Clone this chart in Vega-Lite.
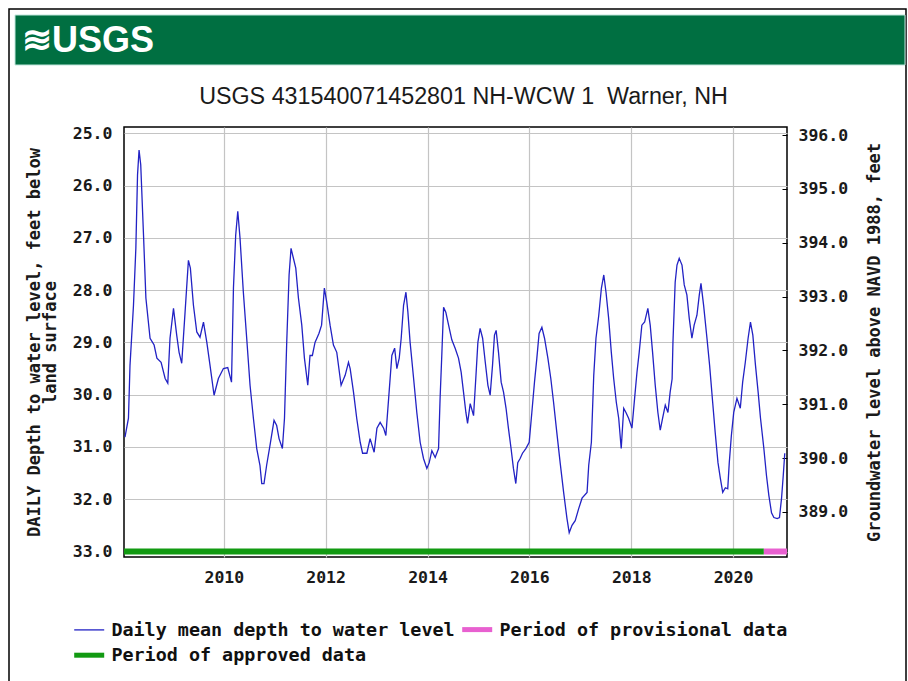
{
  "$schema": "https://vega.github.io/schema/vega-lite/v6.json",
  "width": 663,
  "height": 430,
  "autosize": {"type": "none"},
  "padding": {"left": 124, "top": 127, "right": 121, "bottom": 124},
  "background": "#ffffff",
  "title": {
    "text": "USGS 431540071452801 NH-WCW 1\u00a0 Warner, NH",
    "font": "Liberation Sans, Arial, sans-serif",
    "fontSize": 23.3,
    "fontWeight": "normal",
    "color": "#1a1a1a",
    "anchor": "middle",
    "frame": "group",
    "baseline": "bottom",
    "dx": 8,
    "offset": -124
  },
  "datasets": {
    "depth": [
      {"date": "2008-01-23", "depth": 30.81}, {"date": "2008-02-17", "depth": 30.45}, {"date": "2008-02-28", "depth": 29.44},
      {"date": "2008-03-24", "depth": 28.29}, {"date": "2008-04-10", "depth": 27.2}, {"date": "2008-04-22", "depth": 25.8},
      {"date": "2008-05-03", "depth": 25.32}, {"date": "2008-05-15", "depth": 25.6}, {"date": "2008-06-04", "depth": 26.95},
      {"date": "2008-06-21", "depth": 28.15}, {"date": "2008-07-21", "depth": 28.92}, {"date": "2008-08-19", "depth": 29.05},
      {"date": "2008-09-08", "depth": 29.3}, {"date": "2008-10-08", "depth": 29.38}, {"date": "2008-11-06", "depth": 29.69},
      {"date": "2008-11-25", "depth": 29.78}, {"date": "2008-12-11", "depth": 28.92}, {"date": "2009-01-05", "depth": 28.35},
      {"date": "2009-01-28", "depth": 28.86}, {"date": "2009-02-14", "depth": 29.19}, {"date": "2009-03-05", "depth": 29.4},
      {"date": "2009-03-29", "depth": 28.42}, {"date": "2009-04-22", "depth": 27.43}, {"date": "2009-05-06", "depth": 27.58},
      {"date": "2009-05-28", "depth": 28.29}, {"date": "2009-06-21", "depth": 28.8}, {"date": "2009-07-14", "depth": 28.9},
      {"date": "2009-08-08", "depth": 28.61}, {"date": "2009-09-01", "depth": 29.0}, {"date": "2009-09-24", "depth": 29.44},
      {"date": "2009-10-23", "depth": 30.01}, {"date": "2009-11-23", "depth": 29.69}, {"date": "2009-12-29", "depth": 29.5},
      {"date": "2010-01-29", "depth": 29.48}, {"date": "2010-02-25", "depth": 29.76}, {"date": "2010-03-11", "depth": 27.96},
      {"date": "2010-03-27", "depth": 26.95}, {"date": "2010-04-11", "depth": 26.49}, {"date": "2010-04-27", "depth": 27.0},
      {"date": "2010-05-21", "depth": 28.04}, {"date": "2010-06-14", "depth": 28.92}, {"date": "2010-07-08", "depth": 29.82},
      {"date": "2010-08-01", "depth": 30.45}, {"date": "2010-08-25", "depth": 31.03}, {"date": "2010-09-17", "depth": 31.35},
      {"date": "2010-09-30", "depth": 31.7}, {"date": "2010-10-16", "depth": 31.7}, {"date": "2010-11-04", "depth": 31.35},
      {"date": "2010-11-28", "depth": 30.97}, {"date": "2010-12-27", "depth": 30.49}, {"date": "2011-01-15", "depth": 30.59},
      {"date": "2011-02-01", "depth": 30.84}, {"date": "2011-02-25", "depth": 31.03}, {"date": "2011-03-12", "depth": 30.45},
      {"date": "2011-03-28", "depth": 29.0}, {"date": "2011-04-14", "depth": 27.71}, {"date": "2011-04-28", "depth": 27.2},
      {"date": "2011-05-15", "depth": 27.39}, {"date": "2011-06-01", "depth": 27.58}, {"date": "2011-06-20", "depth": 28.15},
      {"date": "2011-07-14", "depth": 28.67}, {"date": "2011-08-02", "depth": 29.3}, {"date": "2011-08-26", "depth": 29.82},
      {"date": "2011-09-11", "depth": 29.25}, {"date": "2011-09-28", "depth": 29.25}, {"date": "2011-10-17", "depth": 29.0},
      {"date": "2011-11-14", "depth": 28.83}, {"date": "2011-12-03", "depth": 28.67}, {"date": "2011-12-23", "depth": 27.96},
      {"date": "2012-01-09", "depth": 28.23}, {"date": "2012-02-02", "depth": 28.67}, {"date": "2012-02-26", "depth": 29.05},
      {"date": "2012-03-21", "depth": 29.19}, {"date": "2012-04-21", "depth": 29.82}, {"date": "2012-05-20", "depth": 29.63},
      {"date": "2012-06-13", "depth": 29.38}, {"date": "2012-06-25", "depth": 29.5}, {"date": "2012-07-19", "depth": 29.95},
      {"date": "2012-08-11", "depth": 30.45}, {"date": "2012-09-05", "depth": 30.91}, {"date": "2012-09-22", "depth": 31.12},
      {"date": "2012-10-23", "depth": 31.12}, {"date": "2012-11-15", "depth": 30.84}, {"date": "2012-12-14", "depth": 31.1},
      {"date": "2013-01-03", "depth": 30.64}, {"date": "2013-01-26", "depth": 30.53}, {"date": "2013-02-20", "depth": 30.64},
      {"date": "2013-03-08", "depth": 30.78}, {"date": "2013-03-28", "depth": 30.07}, {"date": "2013-04-20", "depth": 29.25},
      {"date": "2013-05-10", "depth": 29.11}, {"date": "2013-05-26", "depth": 29.5}, {"date": "2013-06-12", "depth": 29.3},
      {"date": "2013-06-26", "depth": 28.92}, {"date": "2013-07-13", "depth": 28.29}, {"date": "2013-07-30", "depth": 28.04},
      {"date": "2013-08-13", "depth": 28.42}, {"date": "2013-08-29", "depth": 29.0}, {"date": "2013-09-23", "depth": 29.69},
      {"date": "2013-10-16", "depth": 30.34}, {"date": "2013-11-09", "depth": 30.91}, {"date": "2013-12-03", "depth": 31.22},
      {"date": "2013-12-27", "depth": 31.41}, {"date": "2014-01-13", "depth": 31.3}, {"date": "2014-02-01", "depth": 31.07},
      {"date": "2014-02-25", "depth": 31.2}, {"date": "2014-03-21", "depth": 31.03}, {"date": "2014-04-01", "depth": 30.07},
      {"date": "2014-04-14", "depth": 29.19}, {"date": "2014-04-26", "depth": 28.33}, {"date": "2014-05-12", "depth": 28.42},
      {"date": "2014-06-01", "depth": 28.67}, {"date": "2014-06-24", "depth": 28.95}, {"date": "2014-07-18", "depth": 29.11},
      {"date": "2014-08-11", "depth": 29.3}, {"date": "2014-08-30", "depth": 29.57}, {"date": "2014-09-16", "depth": 29.95},
      {"date": "2014-10-03", "depth": 30.34}, {"date": "2014-10-15", "depth": 30.55}, {"date": "2014-11-03", "depth": 30.17},
      {"date": "2014-11-27", "depth": 30.4}, {"date": "2014-12-13", "depth": 29.69}, {"date": "2014-12-28", "depth": 29.0},
      {"date": "2015-01-13", "depth": 28.73}, {"date": "2015-01-31", "depth": 28.92}, {"date": "2015-02-19", "depth": 29.38},
      {"date": "2015-03-10", "depth": 29.82}, {"date": "2015-03-26", "depth": 30.01}, {"date": "2015-04-12", "depth": 29.44},
      {"date": "2015-04-26", "depth": 28.86}, {"date": "2015-05-08", "depth": 28.77}, {"date": "2015-05-25", "depth": 29.19},
      {"date": "2015-06-13", "depth": 29.76}, {"date": "2015-06-30", "depth": 29.95}, {"date": "2015-07-18", "depth": 30.26},
      {"date": "2015-08-04", "depth": 30.64}, {"date": "2015-08-23", "depth": 31.03}, {"date": "2015-09-09", "depth": 31.41},
      {"date": "2015-09-26", "depth": 31.7}, {"date": "2015-10-10", "depth": 31.3}, {"date": "2015-10-27", "depth": 31.22},
      {"date": "2015-11-13", "depth": 31.12}, {"date": "2015-12-07", "depth": 31.03}, {"date": "2015-12-31", "depth": 30.91},
      {"date": "2016-01-19", "depth": 30.34}, {"date": "2016-02-07", "depth": 29.76}, {"date": "2016-02-24", "depth": 29.3},
      {"date": "2016-03-11", "depth": 28.83}, {"date": "2016-03-31", "depth": 28.71}, {"date": "2016-04-19", "depth": 28.92},
      {"date": "2016-05-13", "depth": 29.3}, {"date": "2016-06-03", "depth": 29.69}, {"date": "2016-06-23", "depth": 30.15},
      {"date": "2016-07-16", "depth": 30.72}, {"date": "2016-08-09", "depth": 31.3}, {"date": "2016-09-03", "depth": 31.87},
      {"date": "2016-09-27", "depth": 32.37}, {"date": "2016-10-13", "depth": 32.64}, {"date": "2016-11-02", "depth": 32.5},
      {"date": "2016-11-25", "depth": 32.41}, {"date": "2016-12-20", "depth": 32.18}, {"date": "2017-01-13", "depth": 31.98},
      {"date": "2017-02-18", "depth": 31.87}, {"date": "2017-03-02", "depth": 31.35}, {"date": "2017-03-21", "depth": 30.91},
      {"date": "2017-04-07", "depth": 29.63}, {"date": "2017-04-23", "depth": 28.92}, {"date": "2017-05-13", "depth": 28.48},
      {"date": "2017-06-01", "depth": 27.96}, {"date": "2017-06-18", "depth": 27.71}, {"date": "2017-07-04", "depth": 28.04},
      {"date": "2017-07-23", "depth": 28.54}, {"date": "2017-08-11", "depth": 29.19}, {"date": "2017-08-28", "depth": 29.69},
      {"date": "2017-09-16", "depth": 30.15}, {"date": "2017-10-03", "depth": 30.45}, {"date": "2017-10-21", "depth": 31.03},
      {"date": "2017-11-08", "depth": 30.26}, {"date": "2017-11-24", "depth": 30.34}, {"date": "2017-12-13", "depth": 30.45},
      {"date": "2018-01-06", "depth": 30.64}, {"date": "2018-01-25", "depth": 30.07}, {"date": "2018-02-11", "depth": 29.57},
      {"date": "2018-02-27", "depth": 29.19}, {"date": "2018-03-18", "depth": 28.67}, {"date": "2018-04-07", "depth": 28.61},
      {"date": "2018-04-30", "depth": 28.35}, {"date": "2018-05-17", "depth": 28.67}, {"date": "2018-06-03", "depth": 29.19},
      {"date": "2018-06-22", "depth": 29.82}, {"date": "2018-07-11", "depth": 30.34}, {"date": "2018-07-28", "depth": 30.68},
      {"date": "2018-08-14", "depth": 30.45}, {"date": "2018-09-02", "depth": 30.2}, {"date": "2018-09-21", "depth": 30.34},
      {"date": "2018-10-07", "depth": 29.95}, {"date": "2018-10-21", "depth": 29.7}, {"date": "2018-10-27", "depth": 29.0},
      {"date": "2018-11-12", "depth": 27.85}, {"date": "2018-11-25", "depth": 27.52}, {"date": "2018-12-11", "depth": 27.39},
      {"date": "2018-12-31", "depth": 27.52}, {"date": "2019-01-16", "depth": 27.9}, {"date": "2019-02-04", "depth": 28.09},
      {"date": "2019-02-21", "depth": 28.54}, {"date": "2019-03-12", "depth": 28.92}, {"date": "2019-03-28", "depth": 28.67},
      {"date": "2019-04-17", "depth": 28.48}, {"date": "2019-05-04", "depth": 28.09}, {"date": "2019-05-16", "depth": 27.87},
      {"date": "2019-06-04", "depth": 28.29}, {"date": "2019-06-28", "depth": 28.92}, {"date": "2019-07-17", "depth": 29.44},
      {"date": "2019-08-08", "depth": 30.15}, {"date": "2019-08-26", "depth": 30.72}, {"date": "2019-09-15", "depth": 31.3},
      {"date": "2019-10-02", "depth": 31.6}, {"date": "2019-10-19", "depth": 31.87}, {"date": "2019-11-07", "depth": 31.78},
      {"date": "2019-11-24", "depth": 31.8}, {"date": "2019-12-05", "depth": 31.3}, {"date": "2019-12-20", "depth": 30.78},
      {"date": "2020-01-06", "depth": 30.34}, {"date": "2020-01-29", "depth": 30.07}, {"date": "2020-02-22", "depth": 30.26},
      {"date": "2020-03-10", "depth": 29.76}, {"date": "2020-03-29", "depth": 29.38}, {"date": "2020-04-18", "depth": 28.92},
      {"date": "2020-05-05", "depth": 28.61}, {"date": "2020-05-22", "depth": 28.86}, {"date": "2020-06-10", "depth": 29.44},
      {"date": "2020-06-29", "depth": 29.95}, {"date": "2020-07-16", "depth": 30.45}, {"date": "2020-08-09", "depth": 31.03},
      {"date": "2020-08-28", "depth": 31.55}, {"date": "2020-09-14", "depth": 31.93}, {"date": "2020-10-03", "depth": 32.26},
      {"date": "2020-10-20", "depth": 32.35}, {"date": "2020-11-13", "depth": 32.37}, {"date": "2020-11-29", "depth": 32.35},
      {"date": "2020-12-14", "depth": 31.98}, {"date": "2020-12-26", "depth": 31.55}, {"date": "2021-01-06", "depth": 31.12}
    ],
    "periods": [
      {"start": "2008-01-16", "end": "2020-08-09", "period": "Period of approved data"},
      {"start": "2020-08-09", "end": "2021-01-22", "period": "Period of provisional data"}
    ]
  },
  "layer": [
    {
      "data": {"values": [{}]},
      "mark": {"type": "rect", "filled": false, "stroke": "#000000", "strokeWidth": 1.5},
      "encoding": {"x": {"value": -115}, "x2": {"value": 782}, "y": {"value": -118}, "y2": {"value": 600}}
    },
    {
      "data": {"values": [{}]},
      "mark": {"type": "rect", "fill": "#006f41", "stroke": "#bfe6dc", "strokeWidth": 1},
      "encoding": {"x": {"value": -109}, "x2": {"value": 781}, "y": {"value": -112}, "y2": {"value": -62}}
    },
    {
      "data": {"values": [{}]},
      "mark": {"type": "text", "align": "left", "baseline": "middle", "color": "#ffffff", "font": "Liberation Sans Narrow, Liberation Sans, sans-serif", "fontSize": 36, "fontWeight": "bold"},
      "encoding": {"x": {"value": -102}, "y": {"value": -86}, "text": {"value": "≋USGS"}}
    },
    {
      "layer": [
        {
          "data": {"name": "depth"},
          "mark": {"type": "line", "strokeWidth": 1.3},
          "encoding": {
            "x": {
              "field": "date", "type": "temporal",
              "scale": {"domain": [{"year": 2008, "month": 1, "date": 16}, {"year": 2021, "month": 1, "date": 22}]},
              "axis": {"title": null, "format": "%Y", "tickCount": {"interval": "year", "step": 2}, "grid": true, "ticks": false, "domain": false, "labelPadding": 12}
            },
            "y": {
              "field": "depth", "type": "quantitative",
              "scale": {"domain": [24.879, 33.105], "reverse": true, "nice": false, "zero": false},
              "axis": {"title": ["DAILY Depth to water level, feet below", "land surface"], "values": [25, 26, 27, 28, 29, 30, 31, 32, 33], "format": ".1f", "ticks": false, "domain": false, "grid": true, "labelPadding": 12, "titlePadding": 13, "titleLineHeight": 16}
            },
            "color": {
              "datum": "Daily mean depth to water level", "type": "nominal",
              "scale": {"domain": ["Daily mean depth to water level", "Period of provisional data", "Period of approved data"], "range": ["#2222c4", "#e860d0", "#129a12"]},
              "legend": {
                "orient": "none", "direction": "horizontal", "legendX": -44, "legendY": 493, "columns": 2, "title": null,
                "values": ["Daily mean depth to water level", "Period of provisional data", "Period of approved data"],
                "symbolType": "stroke", "symbolSize": 900,
                "symbolStrokeWidth": {"expr": "datum.value === 'Daily mean depth to water level' ? 1.3 : 5"},
                "labelFont": "DejaVu Sans Mono", "labelFontSize": 18.4, "labelFontWeight": "bold", "labelColor": "#111111",
                "labelLimit": 0, "labelOffset": 13, "columnPadding": -3, "rowPadding": 5
              }
            }
          }
        },
        {
          "data": {"name": "periods"},
          "mark": {"type": "rule", "strokeWidth": 6, "strokeCap": "butt"},
          "encoding": {
            "x": {"field": "start", "type": "temporal"},
            "x2": {"field": "end"},
            "y": {"datum": 33, "type": "quantitative"},
            "color": {
              "field": "period", "type": "nominal",
              "scale": {"domain": ["Daily mean depth to water level", "Period of provisional data", "Period of approved data"], "range": ["#2222c4", "#e860d0", "#129a12"]},
              "legend": null
            }
          }
        }
      ]
    },
    {
      "data": {"values": [{}]},
      "mark": {"type": "rule", "opacity": 0},
      "encoding": {
        "y": {
          "datum": 392, "type": "quantitative",
          "scale": {"domain": [388.164, 396.149], "nice": false, "zero": false},
          "axis": {"orient": "right", "title": "Groundwater level above NAVD 1988, feet", "values": [389, 390, 391, 392, 393, 394, 395, 396], "format": ".1f", "grid": false, "domain": false, "ticks": true, "tickSize": -5, "labelPadding": 16, "titleAngle": 270, "titlePadding": 36}
        }
      }
    }
  ],
  "resolve": {"scale": {"y": "independent"}},
  "config": {
    "view": {"stroke": "#000000", "strokeWidth": 1.5},
    "axis": {
      "labelFont": "DejaVu Sans Mono", "labelFontSize": 16.5, "labelFontWeight": "bold", "labelColor": "#1a1a1a",
      "titleFont": "DejaVu Sans Mono", "titleFontSize": 17, "titleFontWeight": "bold", "titleColor": "#1a1a1a",
      "gridColor": "#c4c4c4", "gridWidth": 1.2, "tickColor": "#000000"
    }
  }
}
